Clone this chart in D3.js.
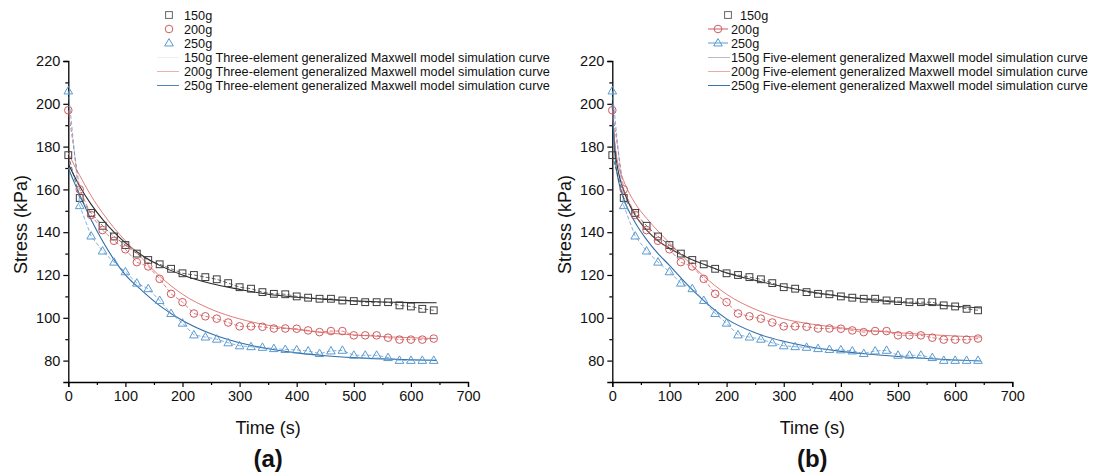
<!DOCTYPE html>
<html><head><meta charset="utf-8">
<script src="https://cdn.jsdelivr.net/npm/d3@7"></script>
<style>
body{margin:0;background:#fff;}
svg{display:block;font-family:"Liberation Sans",Arial,sans-serif;}
</style>
</head><body>
<svg id="chart" width="1094" height="473"></svg>
<script>
// ---- data ----
const times = [0,20,40,60,80,100,120,140,160,180,200,220,240,260,280,300,320,340,360,380,400,420,440,460,480,500,520,540,560,580,600,620,640];
const stress150 = [176,156,149,143,138,134,130,127,125,122.9,120.8,120,119,118,116.2,114.3,113.6,112,111.2,111,110,109.4,108.9,108.9,108.1,107.8,107.3,107.3,107.3,105.8,105.3,104.2,103.5];
const stress200 = [197,160,148,141,136,132,126,124,118.2,111.2,107.3,102,100.7,99.6,97.8,96,96,95.8,95,95,94.9,94.1,93.3,93.8,93.8,91.8,91.8,91.8,90.7,89.8,89.8,89.8,90.3];
const stress250 = [206,152.4,138.2,131.2,126,121.5,116.2,113.6,108.1,102,97.5,92,91,90,88.3,86.9,86.5,86.2,85.6,85.2,85,84.5,83.3,84.5,84.8,82.5,82.5,82.5,81.4,80.1,80.1,80.1,80.1];

const fitTimesA = [0,10,20,40,60,80,100,130,160,200,250,300,350,400,450,500,550,600,645];
const fit3el150 = [172,166.5,161.5,153,146,140,135,129,124.5,120,116,113.3,111,109.6,108.6,107.9,107.4,107.1,107];
const fit3el200 = [177,171.5,166.5,157,149,142,136,127.5,119.5,111,104,99.5,96.5,94.5,93,92,91.2,90.7,90.3];
const fit3el250 = [170,163.5,157.4,145.8,135.9,127.2,120.1,112.5,105.7,98.7,92.5,88.3,85.5,83.6,82.3,81.4,80.8,80.4,80.1];

const fitTimesB = [0,3,6,10,20,40,60,80,100,130,160,200,250,300,350,400,450,500,550,600,645];
const fit5el150 = [200,185,176,169,159.5,148,141,136,132.5,128.3,125,121,117.5,114.5,112,110,108.5,107.3,106.3,105.4,104.6];
const fit5el200 = [198,186,178,172,164,153.5,146.5,140.5,135,127,119.5,111,104,99.5,97,95.3,94,93,92.2,91.5,91];
const fit5el250 = [200,182,172,165,155.5,144.5,136.5,130,124.5,115.8,108,99.5,93,89,86.2,84.3,83,81.9,81,80.3,79.8];

const xTicks = [0,100,200,300,400,500,600,700];
const yTicks = [80,100,120,140,160,180,200,220];
const loads = ["150g","200g","250g"];
const panelLabels = ["(a)","(b)"];
const modelNames = ["Three-element","Five-element"];

// ---- styling ----
const markerColors = ["#3d3d3d","#cf5b5e","#5b9ad0"];
const curveColorsA = ["#2a2a2a","#e27c7c","#2f6ea8"];
const curveColorsB = ["#3a3a3a","#e27c7c","#2f6ea8"];
const legendLineA = ["#eeeeee","#e9b2b6","#4a86bd"];
const legendLineB = ["#b3bcc8","#eaa9ad","#3576b0"];

const svg = d3.select("#chart");
const yTop = 61, yBot = 382;

function marker(g, type, x, y, color){
  if(type===0){
    g.append("rect").attr("x",x-3.4).attr("y",y-3.4).attr("width",6.8).attr("height",6.8)
      .attr("fill","none").attr("stroke",color).attr("stroke-width",1);
  } else if(type===1){
    g.append("circle").attr("cx",x).attr("cy",y).attr("r",3.8)
      .attr("fill","none").attr("stroke",color).attr("stroke-width",1);
  } else {
    const s=8.6, h=s*0.866;
    g.append("path").attr("d",`M${x},${y-h*0.6}L${x+s/2},${y+h*0.4}L${x-s/2},${y+h*0.4}Z`)
      .attr("fill","none").attr("stroke",color).attr("stroke-width",1);
  }
}

function panel(idx, x0, x1, fitT, fits, curveColors, legendLines, legX){
  const x = d3.scaleLinear().domain([0,700]).range([x0,x1]);
  const y = d3.scaleLinear().domain([70,220]).range([yBot,yTop]);
  const g = svg.append("g");

  // axes
  const xa = g.append("g").attr("transform",`translate(0,${yBot})`)
    .call(d3.axisBottom(x).tickValues(xTicks).tickSize(5).tickPadding(4).tickFormat(d3.format("d")));
  const xm = g.append("g").attr("transform",`translate(0,${yBot})`)
    .call(d3.axisBottom(x).tickValues([50,150,250,350,450,550,650]).tickSize(3).tickFormat(""));
  xm.select(".domain").remove();
  const ya = g.append("g").attr("transform",`translate(${x0},0)`)
    .call(d3.axisLeft(y).tickValues(yTicks).tickSize(5).tickPadding(3).tickFormat(d3.format("d")));
  const ym = g.append("g").attr("transform",`translate(${x0},0)`)
    .call(d3.axisLeft(y).tickValues([90,110,130,150,170,190,210]).tickSize(3).tickFormat(""));
  ym.select(".domain").remove();
  [xa,ya].forEach(a=>{
    a.select(".domain").attr("stroke","#000").attr("stroke-width",1.3);
    a.selectAll("text").attr("font-size","14.5px").attr("fill","#111").attr("font-family","Liberation Sans, Arial, sans-serif");
  });
  g.selectAll(".tick line").attr("stroke","#000").attr("stroke-width",1.2);

  // titles
  g.append("text").attr("x",(x0+x1)/2).attr("y",434).attr("text-anchor","middle")
    .attr("font-size","18px").attr("fill","#111").text("Time (s)");
  g.append("text").attr("transform",`translate(${x0-41},${(yTop+yBot)/2+3}) rotate(-90)`)
    .attr("text-anchor","middle").attr("font-size","18px").attr("fill","#111").text("Stress (kPa)");
  g.append("text").attr("x",(x0+x1)/2).attr("y",467).attr("text-anchor","middle")
    .attr("font-size","24px").attr("font-weight","bold").attr("fill","#111").text(panelLabels[idx]);

  const plot = g.append("g");
  const series = [stress150,stress200,stress250];
  // fit curves
  const lineF = d3.line().x((d,i)=>x(fitT[i])).y(d=>y(d)).curve(d3.curveMonotoneX);
  fits.forEach((f,k)=>{
    plot.append("path").attr("d",lineF(f)).attr("fill","none")
      .attr("stroke",curveColors[k]).attr("stroke-width",k===1?1:1.1);
  });
  // data connecting lines + markers
  const lineD = d3.line().x((d,i)=>x(times[i])).y(d=>y(d));
  series.forEach((s,k)=>{
    plot.append("path").attr("d",lineD(s)).attr("fill","none")
      .attr("stroke",markerColors[k]).attr("stroke-width",0.9).attr("stroke-dasharray","4,2").attr("opacity",0.85);
    s.forEach((v,i)=>marker(plot,k,x(times[i]),y(v),markerColors[k]));
  });

  // legend
  const lg = g.append("g").attr("font-size","12.7px").attr("fill","#111");
  const rowY = [15,29,43,57.5,71.5,85.5];
  loads.forEach((l,k)=>{
    const yy = rowY[k];
    if(idx===1 && k>0){
      lg.append("line").attr("x1",legX).attr("x2",legX+20).attr("y1",yy).attr("y2",yy)
        .attr("stroke",markerColors[k]).attr("stroke-width",1);
      marker(lg,k,legX+10,yy,markerColors[k]);
      lg.append("text").attr("x",legX+23).attr("y",yy+4.5).text(l);
    } else {
      const mx = idx===1 ? legX+20 : legX+12;
      marker(lg,k,mx,yy,markerColors[k]==="#3d3d3d"?"#666":markerColors[k]);
      lg.append("text").attr("x",idx===1?legX+32:legX+27).attr("y",yy+4.5).text(l);
    }
  });
  loads.forEach((l,k)=>{
    const yy = rowY[3+k];
    lg.append("line").attr("x1",legX).attr("x2",legX+22).attr("y1",yy).attr("y2",yy)
      .attr("stroke",legendLines[k]).attr("stroke-width",1);
    lg.append("text").attr("x",legX+(idx===1?23:27)).attr("y",yy+4.5)
      .text(`${l} ${modelNames[idx]} generalized Maxwell model simulation curve`);
  });
}

panel(0, 68.3, 468, fitTimesA, [fit3el150,fit3el200,fit3el250], curveColorsA, legendLineA, 157);
panel(1, 612.3, 1012.3, fitTimesB, [fit5el150,fit5el200,fit5el250], curveColorsB, legendLineB, 708);
</script>
</body></html>
